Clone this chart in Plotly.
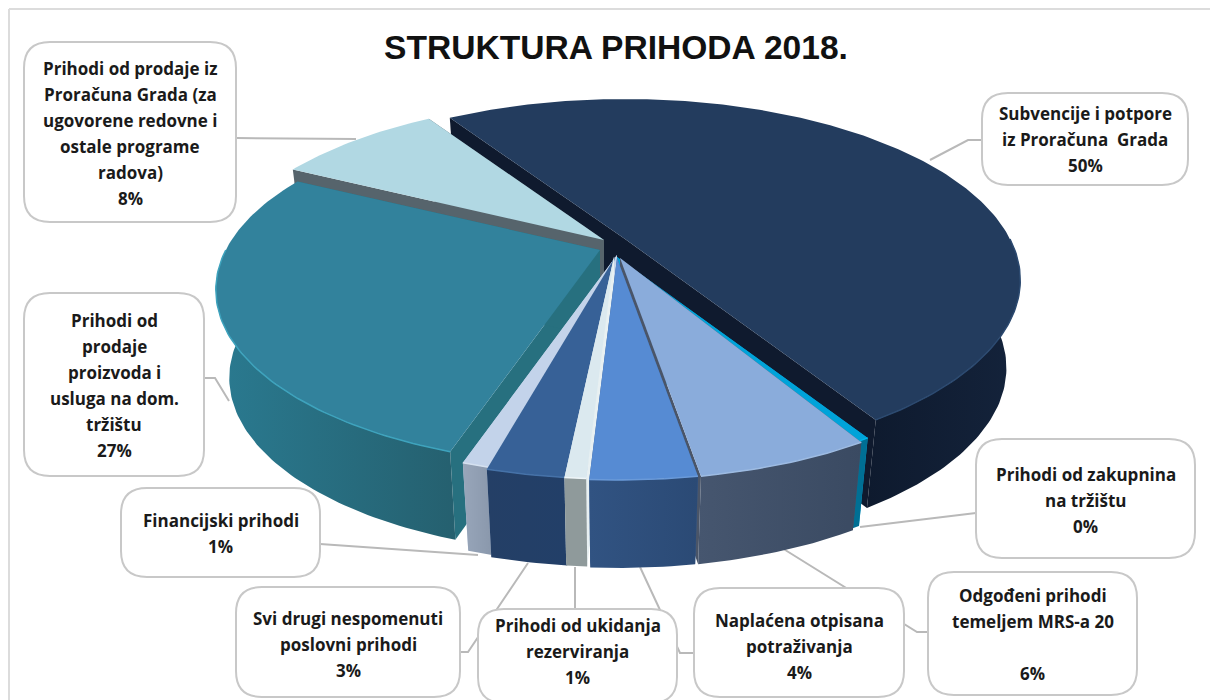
import math
import plotly.graph_objects as go

# ---------- data ----------
categories = ["Subvencije i potpore iz Proračuna Grada", "Prihodi od zakupnina na tržištu",
              "Odgođeni prihodi temeljem MRS-a 20", "Naplaćena otpisana potraživanja",
              "Prihodi od ukidanja rezerviranja", "Svi drugi nespomenuti poslovni prihodi",
              "Financijski prihodi", "Prihodi od prodaje proizvoda i usluga na dom. tržištu",
              "Prihodi od prodaje iz Proračuna Grada (za ugovorene redovne i ostale programe radova)"]
values = [50.3, 0.4, 5.8, 3.5, 0.7, 2.6, 0.9, 27.4, 8.4]
label_lines = [
    ["Subvencije i potpore", "iz Proračuna  Grada"],
    ["Prihodi od zakupnina", "na tržištu"],
    ["Odgođeni prihodi", "temeljem MRS-a 20", ""],
    ["Naplaćena otpisana", "potraživanja"],
    ["Prihodi od ukidanja", "rezerviranja"],
    ["Svi drugi nespomenuti", "poslovni prihodi"],
    ["Financijski prihodi"],
    ["Prihodi od", "prodaje", "proizvoda i", "usluga na dom.", "tržištu"],
    ["Prihodi od prodaje iz", "Proračuna Grada (za", "ugovorene redovne i", "ostale programe", "radova)"],
]
title_text = "STRUKTURA PRIHODA 2018."

# ---------- styling / layout ----------
TOP = ["#233c5e", "#00a3d9", "#8aacdb", "#568bd3", "#dbe9ef", "#376197", "#c3d3ea", "#32829c", "#b1d8e3"]
WALL = [("#0e1a2e", "#14233b"), ("#006f94", "#006f94"), ("#46566f", "#3a4a62"), ("#315382", "#2b4a75"),
        ("#8f9a9b", "#8f9a9b"), ("#243f66", "#223f68"), ("#98a6ba", "#8997ab"), ("#2a7a90", "#25606f"), ("#56646c", "#56646c")]
CUT = ["#0f1a2e", "#00a3d9", "#4a5568", "#3b5f92", "#e8f0f2", "#c8d6ea", "#c8d6ea", "#27707f", "#56646c"]
RIM = ["#2c4a70", "#00b4e8", "#9dbbe2", "#6a9ad9", "#eef5f8", "#4672a8", "#d5e1f0", "#3ea3bd", "#c0e2ea"]
OFFSET = [(3, -19), (-5, -1), (-2, 0), (-5, 0), (-8, -1), (-7, -1), (-5, -3), (-22, -8), (-18, -18)]
SCALE = [1, 1, 1, 1, 1, 1, 1, 0.972, 1]
ORDER = [0, 8, 7, 1, 6, 5, 4, 2, 3]

CX, CY = 622, 258
R, H, K = 385, 171.7, 0.2265
RB, D = 0.965 * R, 88
START = -32.8

BOXES = [(982, 93, 1188, 185, 139), (976, 439, 1195, 558, 500), (928, 572, 1137, 695, 634),
         (694, 588, 904, 697, 646), (478, 609, 677, 703, 651), (236, 587, 460, 697, 644),
         (121, 488, 320, 577, 533), (24, 293, 204, 476, 385), (24, 42, 236, 222, 133)]
LEADERS = [[(982, 140), (968, 140), (930, 160)], [(976, 513), (860, 527)],
           [(928, 632), (917, 632), (782, 548)], [(694, 653), (680, 653), (640, 567)],
           [(575, 608), (575, 567)], [(460, 652), (468, 652), (528, 563)],
           [(320, 544), (478, 555)], [(204, 378), (215, 378), (229, 401)], [(237, 138), (356, 139)]]
LINE_H = 26
GRID = "#b9b9b9"
FONT = "Open Sans"


def proj(theta, off, scale=1, bottom=False):
    a = math.radians(theta)
    u, v = math.sin(a), -math.cos(a)
    s = scale / (1 - K * v)
    rr = RB if bottom else R
    return (CX + off[0] + rr * u * s, CY + off[1] + H * v * s + (D if bottom else 0))


def vertex(off, bottom=False):
    return (CX + off[0], CY + off[1] + (D if bottom else 0))


def arc(t0, t1, off, scale=1, bottom=False):
    n = max(2, int(abs(t1 - t0)) + 2)
    return [proj(t0 + (t1 - t0) * i / (n - 1), off, scale, bottom) for i in range(n)]


def poly(pts, color=None, grad=None):
    xs = [p[0] for p in pts] + [pts[0][0]]
    ys = [p[1] for p in pts] + [pts[0][1]]
    kw = dict(x=xs, y=ys, mode="lines", fill="toself", line=dict(width=0), hoverinfo="skip", showlegend=False)
    if grad:
        kw["fillgradient"] = dict(type="horizontal", colorscale=[[0, grad[0]], [1, grad[1]]])
        kw["fillcolor"] = grad[0]
    else:
        kw["fillcolor"] = color
    return go.Scatter(**kw)


fig = go.Figure()
total = sum(values)
angles, t = [], START
for val in values:
    angles.append((t, t + val / total * 360))
    t += val / total * 360

for i in ORDER:
    t0, t1 = angles[i]
    off, sc = OFFSET[i], SCALE[i]
    for th in (t0, t1):
        fig.add_trace(poly([vertex(off), proj(th, off, sc), proj(th, off, sc, True), vertex(off, True)], CUT[i]))
    lo, hi = max(t0, 90), min(t1, 270)
    if lo < hi:
        fig.add_trace(poly(arc(lo, hi, off, sc) + arc(hi, lo, off, sc, True), grad=WALL[i]))
    fig.add_trace(poly([vertex(off)] + arc(t0, t1, off, sc), TOP[i]))
    if lo < hi:
        rim = arc(lo, hi, off, sc)
        fig.add_trace(go.Scatter(x=[p[0] for p in rim], y=[p[1] for p in rim], mode="lines",
                                 line=dict(color=RIM[i], width=1.5), hoverinfo="skip", showlegend=False))

shapes = [
    dict(type="line", x0=9, y0=9, x1=1210, y1=9, line=dict(color="#dcdcdc", width=2), layer="below"),
    dict(type="line", x0=9, y0=9, x1=9, y1=700, line=dict(color="#dcdcdc", width=2), layer="below"),
]
for pts in LEADERS:
    path = "M" + " L".join(f"{x},{y}" for x, y in pts)
    shapes.append(dict(type="path", path=path, line=dict(color=GRID, width=2), layer="below"))
rad = 26
for x0, y0, x1, y1, _ in BOXES:
    path = (f"M{x0+rad},{y0} L{x1-rad},{y0} Q{x1},{y0} {x1},{y0+rad} L{x1},{y1-rad} Q{x1},{y1} {x1-rad},{y1} "
            f"L{x0+rad},{y1} Q{x0},{y1} {x0},{y1-rad} L{x0},{y0+rad} Q{x0},{y0} {x0+rad},{y0} Z")
    shapes.append(dict(type="path", path=path, fillcolor="white", line=dict(color="#c8c8c8", width=2), layer="below"))

ann = [dict(x=616, y=47, xref="x", yref="y", text=f"<b>{title_text}</b>", showarrow=False,
            font=dict(family="Liberation Sans", size=33.6, color="#111111"))]
for lines, val, box in zip(label_lines, values, BOXES):
    rows = lines + [f"{round(val)}%"]
    xc = (box[0] + box[2]) / 2
    y0 = box[4] - (len(rows) - 1) * LINE_H / 2
    for j, row in enumerate(rows):
        if row:
            ann.append(dict(x=xc, y=y0 + j * LINE_H, xref="x", yref="y", text=f"<b>{row}</b>", showarrow=False,
                            font=dict(family=FONT, size=17, color="#1a1a1a")))

fig.update_layout(width=1210, height=700, margin=dict(l=0, r=0, t=0, b=0), autosize=False,
                  paper_bgcolor="white", plot_bgcolor="white", shapes=shapes, annotations=ann,
                  xaxis=dict(range=[0, 1210], visible=False, fixedrange=True),
                  yaxis=dict(range=[700, 0], visible=False, fixedrange=True), showlegend=False)
fig.write_html("out.html", config=dict(displayModeBar=False),
               post_script="document.body.style.margin='0';document.body.style.overflow='hidden';")
